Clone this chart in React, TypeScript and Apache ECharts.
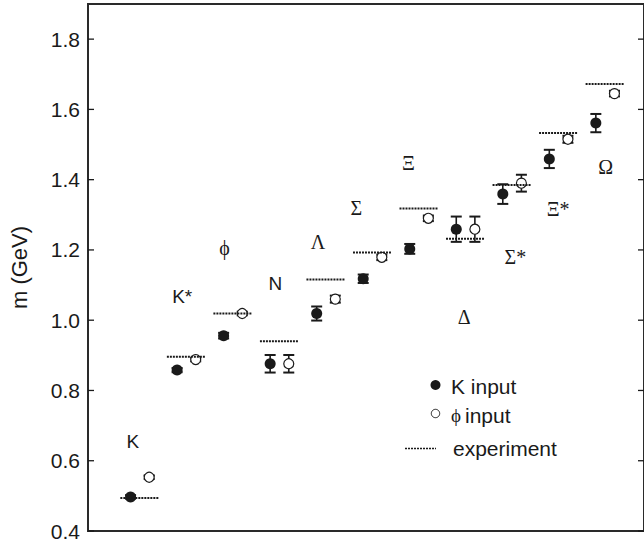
import React, { useEffect, useRef } from 'react';
import * as echarts from 'echarts';

const particles = ['K', 'K*', 'ϕ', 'N', 'Λ', 'Σ', 'Ξ', 'Δ', 'Σ*', 'Ξ*', 'Ω'];
const kInput = [0.497, 0.858, 0.956, 0.876, 1.019, 1.118, 1.203, 1.259, 1.359, 1.459, 1.561];
const kErr = [0.005, 0.006, 0.008, 0.025, 0.02, 0.012, 0.014, 0.036, 0.028, 0.026, 0.026];
const phiInput = [0.553, 0.888, 1.019, 0.876, 1.06, 1.179, 1.29, 1.259, 1.39, 1.515, 1.645];
const phiErr = [0.005, 0.005, 0.005, 0.025, 0.01, 0.008, 0.008, 0.036, 0.024, 0.01, 0.008];
const experiment = [0.494, 0.896, 1.019, 0.94, 1.116, 1.193, 1.318, 1.232, 1.385, 1.533, 1.672];
// label anchor positions, in the same units as the particle slots (slot 1 = K, ..., slot 11 = Ω)
const labelX = [1.05, 2.11, 3.02, 4.11, 5.03, 5.85, 6.97, 8.17, 9.27, 10.19, 11.21];
const labelY = [0.654, 1.067, 1.205, 1.105, 1.223, 1.318, 1.447, 1.01, 1.181, 1.316, 1.437];
const sansLabels = ['K', 'K*', 'N'];
const yTicks = [0.4, 0.6, 0.8, 1.0, 1.2, 1.4, 1.6, 1.8];

const X_MIN = 0.085;
const X_MAX = 12.035;
const SANS = 'Liberation Sans, Arial, Helvetica, sans-serif';
const SERIF = 'Liberation Serif, Times New Roman, DejaVu Serif, serif';
const INK = '#1a1a1a';

export default function App() {
  const ref = useRef<HTMLDivElement>(null);
  useEffect(() => {
    if (!ref.current) return;
    const chart = echarts.init(ref.current, null, { renderer: 'svg' });

    const errRender = (params: any, api: any) => {
      const x = api.value(0);
      const y = api.value(1);
      const e = api.value(2);
      const hi = api.coord([x, y + e]);
      const lo = api.coord([x, y - e]);
      const hw = 5.5;
      return {
        type: 'group',
        children: [
          { type: 'line', shape: { x1: hi[0], y1: hi[1], x2: lo[0], y2: lo[1] }, style: { stroke: INK, lineWidth: 1.6 } },
          { type: 'line', shape: { x1: hi[0] - hw, y1: hi[1], x2: hi[0] + hw, y2: hi[1] }, style: { stroke: INK, lineWidth: 2 } },
          { type: 'line', shape: { x1: lo[0] - hw, y1: lo[1], x2: lo[0] + hw, y2: lo[1] }, style: { stroke: INK, lineWidth: 2 } },
        ],
      };
    };

    const exptRender = (params: any, api: any) => {
      const x = api.value(0);
      const y = api.value(1);
      const a = api.coord([x - 0.22, y]);
      const b = api.coord([x + 0.6, y]);
      return {
        type: 'line',
        shape: { x1: a[0], y1: a[1], x2: b[0], y2: b[1] },
        style: { stroke: INK, lineWidth: 2, lineDash: [2, 1] },
      };
    };

    const tickRender = (params: any, api: any) => {
      const v = api.value(1);
      const py = api.coord([X_MIN, v])[1];
      const x0 = api.coord([X_MIN, v])[0];
      const x1 = api.coord([X_MAX, v])[0];
      const len = 6;
      return {
        type: 'group',
        children: [
          { type: 'line', shape: { x1: x0, y1: py, x2: x0 + len, y2: py }, style: { stroke: INK, lineWidth: 1.3 } },
          { type: 'line', shape: { x1: x1 - len, y1: py, x2: x1, y2: py }, style: { stroke: INK, lineWidth: 1.3 } },
        ],
      };
    };

    const labelRender = (params: any, api: any) => {
      const i = params.dataIndex;
      const p = api.coord([api.value(0), api.value(1)]);
      const txt = particles[i];
      const sans = sansLabels.indexOf(txt) >= 0;
      return {
        type: 'text',
        x: p[0],
        y: p[1],
        style: {
          text: txt,
          fill: INK,
          fontSize: sans ? 19 : 20,
          fontFamily: sans ? SANS : SERIF,
          align: 'center',
          verticalAlign: 'middle',
        },
      };
    };

    const txt = (x: number, y: number, text: string, family: string, size = 21) => ({
      type: 'text',
      x,
      y,
      style: { text, fontSize: size, fontFamily: family, fill: INK, verticalAlign: 'middle', align: 'left' },
    });

    chart.setOption({
      animation: false,
      backgroundColor: '#ffffff',
      grid: {
        left: 88,
        top: 4,
        width: 558,
        bottom: 11,
        show: true,
        borderColor: '#2a2a2a',
        borderWidth: 2,
        backgroundColor: 'transparent',
      },
      xAxis: {
        type: 'value',
        min: X_MIN,
        max: X_MAX,
        axisLine: { show: false, onZero: false },
        axisTick: { show: false },
        axisLabel: { show: false },
        splitLine: { show: false },
      },
      yAxis: {
        type: 'value',
        min: 0.4,
        max: 1.9,
        interval: 0.2,
        name: 'm (GeV)',
        nameLocation: 'middle',
        nameGap: 58,
        nameRotate: 90,
        nameTextStyle: { fontFamily: SANS, fontSize: 22, color: INK },
        axisLine: { show: false, onZero: false },
        axisTick: { show: false },
        axisLabel: {
          show: true,
          showMaxLabel: false,
          margin: 8,
          fontFamily: SANS,
          fontSize: 21,
          color: INK,
          formatter: (v: number) => {
            const t = yTicks.find((k) => Math.abs(k - v) < 1e-6);
            return t === undefined ? '' : t.toFixed(1);
          },
        },
        splitLine: { show: false },
      },
      series: [
        {
          type: 'custom',
          name: 'ticks',
          renderItem: tickRender,
          data: yTicks.map((v) => [X_MIN, v]),
          clip: false,
          z: 1,
        },
        {
          type: 'custom',
          name: 'kErr',
          renderItem: errRender,
          data: kInput.map((v, i) => [i + 1, v, kErr[i]]),
          z: 2,
        },
        {
          type: 'custom',
          name: 'phiErr',
          renderItem: errRender,
          data: phiInput.map((v, i) => [i + 1.4, v, phiErr[i]]),
          z: 2,
        },
        {
          type: 'scatter',
          name: 'K input',
          symbol: 'circle',
          symbolSize: 11,
          itemStyle: { color: INK, opacity: 1 },
          data: kInput.map((v, i) => [i + 1, v]),
          z: 3,
        },
        {
          type: 'scatter',
          name: 'ϕ input',
          symbol: 'circle',
          symbolSize: 10,
          itemStyle: { color: '#ffffff', borderColor: INK, borderWidth: 1.2, opacity: 1 },
          data: phiInput.map((v, i) => [i + 1.4, v]),
          z: 3,
        },
        {
          type: 'custom',
          name: 'experiment',
          renderItem: exptRender,
          data: experiment.map((v, i) => [i + 1, v]),
          z: 4,
        },
        {
          type: 'custom',
          name: 'labels',
          renderItem: labelRender,
          data: labelX.map((x, i) => [x, labelY[i]]),
          z: 5,
        },
      ],
      graphic: [
        { type: 'circle', shape: { cx: 435.5, cy: 385, r: 5 }, style: { fill: INK } },
        txt(451, 386, 'K input', SANS),
        { type: 'circle', shape: { cx: 435.5, cy: 413.5, r: 4.2 }, style: { fill: '#fff', stroke: INK, lineWidth: 1 } },
        txt(451, 415, 'ϕ', SERIF, 19),
        txt(465, 415, 'input', SANS),
        { type: 'line', shape: { x1: 405, y1: 448.5, x2: 436, y2: 448.5 }, style: { stroke: INK, lineWidth: 1.5, lineDash: [2, 1] } },
        txt(453, 448, 'experiment', SANS),
      ],
    });
    return () => chart.dispose();
  }, []);
  return <div ref={ref} style={{ position: 'fixed', left: 0, top: 0, width: 644, height: 542 }} />;
}
